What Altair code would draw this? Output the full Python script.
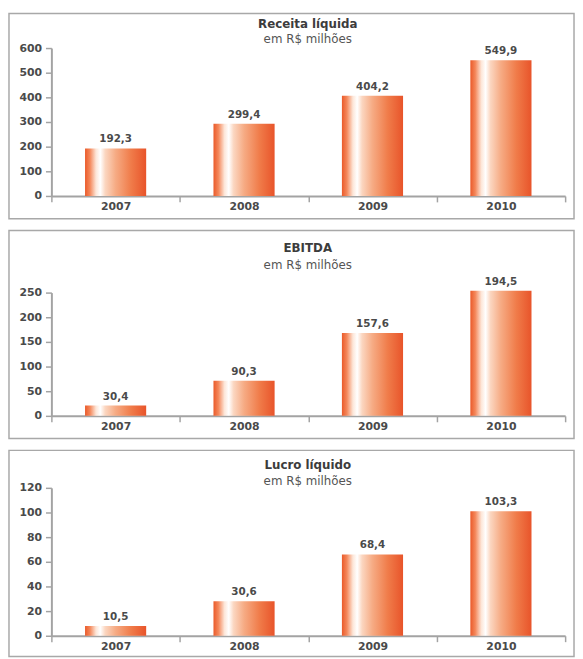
import altair as alt
import pandas as pd

years = ["2007", "2008", "2009", "2010"]

receita_heights = [193, 293, 406, 550]
receita_labels = ["192,3", "299,4", "404,2", "549,9"]

ebitda_heights = [21, 71, 168, 254]
ebitda_labels = ["30,4", "90,3", "157,6", "194,5"]

lucro_heights = [8, 28, 66, 101]
lucro_labels = ["10,5", "30,6", "68,4", "103,3"]

titles = ["Receita líquida", "EBITDA", "Lucro líquido"]
subtitle_text = "em R$ milhões"
y_max = [600, 250, 120]
y_step = [100, 50, 20]

FONT = "DejaVu Sans"
AXIS_COLOR = "#a3a3a3"
LABEL_COLOR = "#4a4a4a"

bar_gradient = alt.Gradient(
    gradient="linear",
    x1=0, x2=1, y1=0, y2=0,
    stops=[
        alt.GradientStop(offset=0.0, color="#ea5a2a"),
        alt.GradientStop(offset=0.08, color="#f4875a"),
        alt.GradientStop(offset=0.18, color="#fde6d8"),
        alt.GradientStop(offset=0.25, color="#ffffff"),
        alt.GradientStop(offset=0.33, color="#fbd6c0"),
        alt.GradientStop(offset=0.5, color="#f6ab84"),
        alt.GradientStop(offset=0.75, color="#f07c4a"),
        alt.GradientStop(offset=1.0, color="#e8542a"),
    ],
)


def panel(title, heights, labels, ymax, step, box_h, y_top, y_bot, x_off, t_off, t_pad):
    df = pd.DataFrame({"year": years, "value": heights, "label": labels})
    base = alt.Chart(df).encode(
        x=alt.X(
            "year:N", sort=years, title=None,
            scale=alt.Scale(range=[43, 564], paddingInner=0, paddingOuter=0),
            axis=alt.Axis(
                labelAngle=0, tickBand="extent", offset=x_off,
                domainColor=AXIS_COLOR, domainWidth=2,
                tickColor=AXIS_COLOR, tickWidth=1.5, tickSize=6,
                labelFont=FONT, labelFontSize=11, labelFontWeight="bold",
                labelColor=LABEL_COLOR, labelPadding=-1,
            ),
        ),
        y=alt.Y(
            "value:Q", title=None,
            scale=alt.Scale(domain=[0, ymax], range=[y_bot, y_top], nice=False),
            axis=alt.Axis(
                values=list(range(0, ymax + 1, step)), offset=-43, grid=False,
                domainColor=AXIS_COLOR, domainWidth=2,
                tickColor=AXIS_COLOR, tickWidth=1.5, tickSize=6,
                labelFont=FONT, labelFontSize=11, labelFontWeight="bold",
                labelColor=LABEL_COLOR, labelPadding=4,
            ),
        ),
    )
    bars = base.mark_bar(size=62, color=bar_gradient)
    text = base.mark_text(
        dy=-4, baseline="bottom", font=FONT, fontWeight="bold",
        fontSize=10.5, color=LABEL_COLOR,
    ).encode(text="label:N")
    return alt.layer(bars, text).properties(
        width=573, height=box_h,
        title=alt.TitleParams(
            text=title, subtitle=subtitle_text, frame="group", anchor="middle",
            dx=16.5, offset=t_off, font=FONT, fontSize=12, fontWeight="bold",
            color="#3c3c3c", subtitleFont=FONT, subtitleFontSize=12,
            subtitleFontWeight="normal", subtitleColor="#555555",
            subtitlePadding=t_pad,
        ),
    )


p1 = panel(titles[0], receita_heights, receita_labels, y_max[0], y_step[0],
           208, 35, 185, -23, -33, 3)
p2 = panel(titles[1], ebitda_heights, ebitda_labels, y_max[1], y_step[1],
           211, 63, 188, -23, -42, 5)
p3 = panel(titles[2], lucro_heights, lucro_labels, y_max[2], y_step[2],
           209, 38, 188, -21, -38, 4)

chart = (
    alt.vconcat(p1, p2, p3, spacing=10)
    .properties(padding=0, background="white")
    .configure_view(stroke="#a8a8a8", strokeWidth=1.5)
)

chart.save("out.html", embed_options={"renderer": "svg", "actions": False})
